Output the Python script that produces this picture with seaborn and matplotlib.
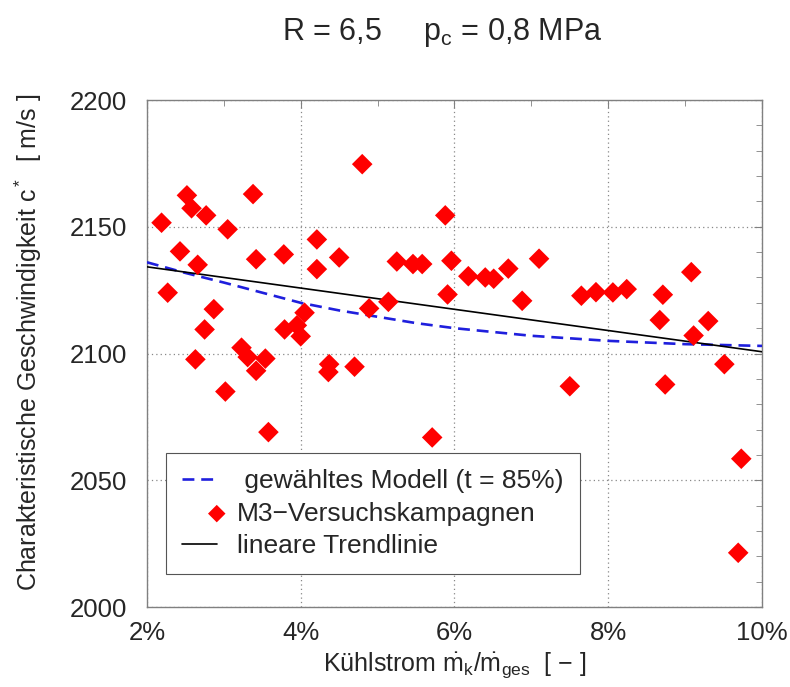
import numpy as np
import pandas as pd
import matplotlib
matplotlib.use("Agg")
import matplotlib.pyplot as plt
import seaborn as sns
from matplotlib.ticker import MultipleLocator, FuncFormatter
from matplotlib.legend_handler import HandlerPathCollection
from matplotlib.collections import PathCollection

# --- data ---
kuehl_pct = [2.19, 2.27, 2.43, 2.52, 2.58, 2.63, 2.66, 2.75, 2.77, 2.87,
             3.02, 3.05, 3.23, 3.31, 3.38, 3.42, 3.42, 3.54, 3.58, 3.78,
             3.79, 3.95, 4.00, 4.05, 4.21, 4.21, 4.36, 4.37, 4.50, 4.70,
             4.80, 4.89, 5.14, 5.25, 5.46, 5.58, 5.71, 5.88, 5.91, 5.96,
             6.18, 6.40, 6.51, 6.70, 6.88, 7.10, 7.50, 7.65, 7.84, 8.06,
             8.24, 8.67, 8.71, 8.74, 9.08, 9.11, 9.30, 9.51, 9.69, 9.73]
c_star = [2151.6, 2124.0, 2140.3, 2162.4, 2157.3, 2097.7, 2135.0, 2109.5, 2154.5, 2117.5,
          2085.0, 2149.0, 2102.3, 2098.6, 2162.9, 2137.2, 2093.2, 2098.0, 2069.0, 2139.1,
          2109.5, 2111.1, 2106.8, 2116.1, 2145.0, 2133.3, 2092.7, 2095.8, 2137.9, 2094.8,
          2174.7, 2117.8, 2120.4, 2136.3, 2135.3, 2135.3, 2066.9, 2154.5, 2123.3, 2136.6,
          2130.5, 2130.0, 2129.5, 2133.5, 2120.8, 2137.4, 2087.1, 2122.8, 2124.2, 2124.1,
          2125.4, 2113.2, 2123.2, 2087.8, 2132.1, 2107.1, 2112.8, 2095.8, 2021.4, 2058.5]

model_x = [2.0, 2.5, 3.0, 3.5, 4.0, 4.5, 5.0, 5.5, 6.0, 7.0, 8.0, 9.0, 10.0]
model_y = [2136.0, 2131.8, 2128.0, 2124.0, 2120.0, 2117.0, 2114.5, 2112.0, 2110.0, 2107.0, 2105.0, 2103.7, 2103.0]

trend_x = [2.0, 10.0]
trend_y = [2134.2, 2100.7]

x_ticks = [2, 4, 6, 8, 10]
y_ticks = [2000, 2050, 2100, 2150, 2200]

sns.set_style("white")
plt.rcParams["font.family"] = ["Liberation Sans", "DejaVu Sans"]
plt.rcParams["mathtext.fontset"] = "custom"
plt.rcParams["mathtext.rm"] = "Liberation Sans"
plt.rcParams["mathtext.it"] = "Liberation Sans"
plt.rcParams["mathtext.bf"] = "Liberation Sans:bold"


class RightMarkerHandler(HandlerPathCollection):
    def get_xdata(self, legend, xdescent, ydescent, width, height, fontsize):
        xdata, _ = super().get_xdata(legend, xdescent, ydescent, width, height, fontsize)
        return xdata, [width * 0.98 - xdescent]


fig = plt.figure(figsize=(7.9, 6.87), dpi=100)
ax = fig.add_axes([0.186, 0.1164, 0.7786, 0.738])

pts = pd.DataFrame({"x": kuehl_pct, "y": c_star})
mod = pd.DataFrame({"x": model_x, "y": model_y})
tr = pd.DataFrame({"x": trend_x, "y": trend_y})

sns.lineplot(data=mod, x="x", y="y", ax=ax, color="#1f1fdd", lw=1.9,
             linestyle=(0, (4.5, 2.6)), label=" gewähltes Modell (t = 85%)", zorder=3)
sns.scatterplot(data=pts, x="x", y="y", ax=ax, marker="D", s=110, color="#ff0000",
                edgecolor="none", label="M3\u2212Versuchskampagnen", zorder=4)
sns.lineplot(data=tr, x="x", y="y", ax=ax, color="black", lw=1.2,
             label="lineare Trendlinie", zorder=3)

ax.set_xlim(2, 10)
ax.set_ylim(2000, 2200)
ax.set_xticks(x_ticks)
ax.set_yticks(y_ticks)
ax.xaxis.set_major_formatter(FuncFormatter(lambda v, p: f"{v:g}%"))
ax.xaxis.set_minor_locator(MultipleLocator(1))
ax.yaxis.set_minor_locator(MultipleLocator(10))
ax.tick_params(which="both", direction="in", top=True, right=True, color="#808080")
ax.tick_params(which="major", length=6, labelsize=18.5)
ax.tick_params(which="minor", length=4)
ax.tick_params(axis="x", which="major", pad=10)
ax.tick_params(axis="y", which="major", pad=14)
for s in ax.spines.values():
    s.set_color("#808080")
    s.set_linewidth(1.0)
ax.grid(True, which="major", linestyle=(0, (1, 2.5)), color="#888888", linewidth=0.9)

ax.set_xlabel(r"Kühlstrom $\dot{\rm m}_{\rm k}/\dot{\rm m}_{\rm ges}$  [ $-$ ]", fontsize=18, labelpad=4)
ax.set_ylabel(r"Charakteristische Geschwindigkeit c$^*$  [ m/s ]", fontsize=18)
ax.yaxis.set_label_coords(-0.168, 0.522)
fig.text(0.56, 0.953, r"R = 6,5     p$_{\rm c}$ = 0,8 MPa", ha="center", va="center", fontsize=22)

leg = ax.legend(loc="lower left", bbox_to_anchor=(0.031, 0.065), borderaxespad=0,
                fontsize=19, frameon=True,
                fancybox=False, framealpha=1, edgecolor="#555555", handlelength=1.35,
                borderpad=0.6, labelspacing=0.33, handletextpad=0.75, markerscale=0.85,
                handler_map={PathCollection: RightMarkerHandler()})
leg.get_frame().set_linewidth(0.8)

fig.savefig("out.png", dpi=100)
